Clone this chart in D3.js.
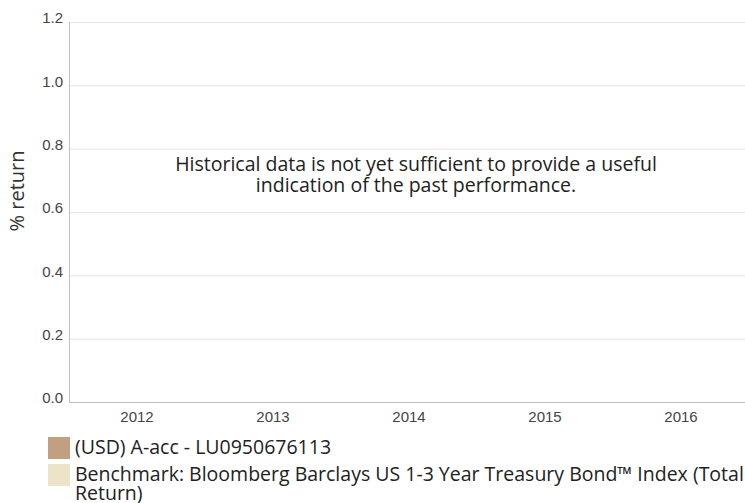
<!DOCTYPE html>
<html><head><meta charset="utf-8">
<script src="https://cdn.jsdelivr.net/npm/d3@7/dist/d3.min.js"></script>
<style>body{margin:0;background:#fff}</style>
</head><body>
<svg id="c" width="745" height="503"></svg>
<script>
const categories = ["2012","2013","2014","2015","2016"];
const fundValues = [null,null,null,null,null];
const benchValues = [null,null,null,null,null];
const yTicks = [0,0.2,0.4,0.6,0.8,1.0,1.2];
const seriesNames = ["(USD) A-acc - LU0950676113","Benchmark: Bloomberg Barclays US 1-3 Year Treasury Bond™ Index (Total","Return)"];
const seriesColors = ["#c19f80","#ede3c8"];
const message = ["Historical data is not yet sufficient to provide a useful","indication of the past performance."];

const svg = d3.select("#c");
const L=69, R=749, T=22, B=402;
const x = d3.scaleBand().domain(categories).range([L,R]);
const y = d3.scaleLinear().domain([0,1.2]).range([B,T]);

svg.append("g").selectAll("line").data(yTicks.filter(d=>d>0)).join("line")
  .attr("x1",L).attr("x2",745).attr("y1",d=>y(d)+0.5).attr("y2",d=>y(d)+0.5)
  .attr("stroke","#e6e6e6");

const ya = svg.append("g").attr("transform",`translate(${L},0)`)
  .call(d3.axisLeft(y).tickValues(yTicks).tickFormat(d3.format(".1f")).tickSize(0).tickPadding(6));
ya.select(".domain").attr("stroke","#c0c0c0").attr("d",`M0.5,${T}V${B}`);
ya.selectAll("text").attr("font-family","Liberation Sans, Arial, sans-serif").attr("font-size",15).attr("fill","#444").attr("dy","0.05em");

const xa = svg.append("g").attr("transform",`translate(0,${B})`)
  .call(d3.axisBottom(x).tickSize(0).tickPadding(9));
xa.select(".domain").attr("stroke","#bdbdbd").attr("d",`M${L},0.5H745`);
xa.selectAll("text").attr("font-family","Liberation Sans, Arial, sans-serif").attr("font-size",15).attr("fill","#444");

// bars (no data)
const bw = x.bandwidth()/3;
svg.append("g").selectAll("rect").data(fundValues.map((v,i)=>({v,i})).filter(d=>d.v!=null)).join("rect")
  .attr("x",d=>x(categories[d.i])+bw/2).attr("width",bw).attr("y",d=>y(d.v)).attr("height",d=>B-y(d.v)).attr("fill",seriesColors[0]);
svg.append("g").selectAll("rect").data(benchValues.map((v,i)=>({v,i})).filter(d=>d.v!=null)).join("rect")
  .attr("x",d=>x(categories[d.i])+bw*1.5).attr("width",bw).attr("y",d=>y(d.v)).attr("height",d=>B-y(d.v)).attr("fill",seriesColors[1]);

svg.append("text").attr("transform","translate(24,191) rotate(-90)").attr("text-anchor","middle")
  .attr("font-family","Open Sans, sans-serif").attr("font-size",20).attr("fill","#333").text("% return");

svg.append("g").selectAll("text").data(message).join("text")
  .attr("x",416).attr("y",(d,i)=>171+i*21).attr("text-anchor","middle")
  .attr("font-family","Open Sans, sans-serif").attr("font-size",19.5).attr("fill","#222").text(d=>d);

const lg = svg.append("g");
lg.append("rect").attr("x",48).attr("y",437).attr("width",22).attr("height",22).attr("fill",seriesColors[0]);
lg.append("rect").attr("x",48).attr("y",464).attr("width",22).attr("height",22).attr("fill",seriesColors[1]);
lg.selectAll("text").data(seriesNames).join("text")
  .attr("x",75).attr("y",(d,i)=>[454,481,500][i])
  .attr("font-family","Open Sans, sans-serif").attr("font-size",19.5).attr("fill","#222").text(d=>d);
</script>
</body></html>
